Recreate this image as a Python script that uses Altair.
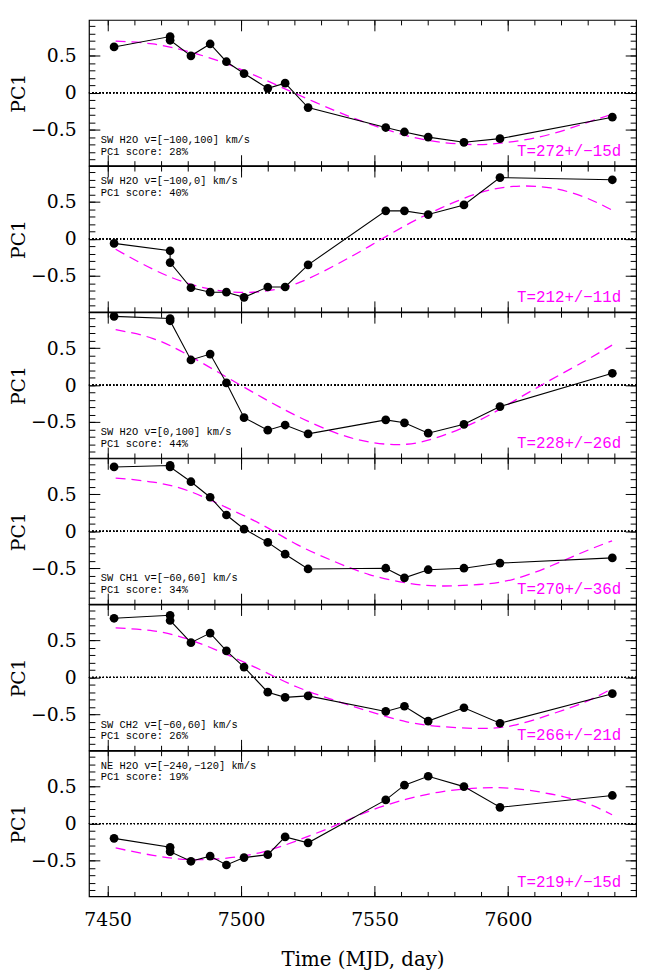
import altair as alt
import pandas as pd

# ---------------- data ----------------
# observation epochs (MJD - 2450000), two visits close to 7473
mjd = [7452.4, 7473.4, 7473.4, 7481.2, 7488.4, 7494.5, 7501.1, 7510.0, 7516.5,
       7525.1, 7554.2, 7561.2, 7570.1, 7583.5, 7597.0, 7639.1]
obs_order = list(range(len(mjd)))

pc1_sw_h2o_all = [0.62, 0.76, 0.71, 0.50, 0.66, 0.42, 0.26, 0.06, 0.13, -0.20,
                  -0.47, -0.53, -0.60, -0.67, -0.62, -0.33]
pc1_sw_h2o_neg = [-0.06, -0.16, -0.32, -0.66, -0.72, -0.72, -0.79, -0.65, -0.65, -0.35,
                  0.38, 0.38, 0.33, 0.46, 0.83, 0.80]
pc1_sw_h2o_pos = [0.93, 0.90, 0.87, 0.34, 0.42, 0.03, -0.44, -0.61, -0.54, -0.66,
                  -0.47, -0.51, -0.65, -0.53, -0.29, 0.16]
pc1_sw_ch1 = [0.87, 0.89, 0.87, 0.67, 0.46, 0.22, 0.03, -0.15, -0.31, -0.51,
              -0.50, -0.63, -0.52, -0.50, -0.43, -0.36]
pc1_sw_ch2 = [0.80, 0.84, 0.77, 0.47, 0.60, 0.36, 0.14, -0.20, -0.27, -0.25,
              -0.46, -0.39, -0.59, -0.41, -0.62, -0.22]
pc1_ne_h2o = [-0.20, -0.32, -0.38, -0.51, -0.44, -0.56, -0.46, -0.42, -0.18, -0.26,
              0.32, 0.52, 0.64, 0.50, 0.22, 0.38]

# dashed periodic fits, read at these epochs
fit_mjd = [7453, 7467, 7480, 7494, 7508, 7521, 7535, 7548, 7562, 7575, 7589, 7602,
           7616, 7629, 7639]
fit_sw_h2o_all = [0.70, 0.66, 0.56, 0.40, 0.19, -0.02, -0.24, -0.42, -0.58, -0.67,
                  -0.70, -0.66, -0.56, -0.41, -0.29]
fit_sw_h2o_neg = [-0.14, -0.41, -0.60, -0.71, -0.71, -0.60, -0.36, -0.10, 0.19, 0.42,
                  0.62, 0.71, 0.69, 0.56, 0.39]
fit_sw_h2o_pos = [0.75, 0.63, 0.41, 0.12, -0.17, -0.42, -0.64, -0.77, -0.80, -0.69,
                  -0.48, -0.22, 0.07, 0.33, 0.54]
fit_sw_ch1 = [0.72, 0.665, 0.55, 0.33, 0.085, -0.18, -0.41, -0.585, -0.70, -0.74,
              -0.72, -0.65, -0.47, -0.27, -0.13]
fit_sw_ch2 = [0.67, 0.63, 0.52, 0.32, 0.09, -0.13, -0.31, -0.46, -0.60, -0.665,
              -0.69, -0.65, -0.50, -0.33, -0.15]
fit_ne_h2o = [-0.33, -0.43, -0.485, -0.47, -0.385, -0.23, -0.03, 0.17, 0.33, 0.43,
              0.48, 0.475, 0.40, 0.28, 0.12]

maser_labels = ["SW H2O v=[\u2212100,100] km/s", "SW H2O v=[\u2212100,0] km/s",
                "SW H2O v=[0,100] km/s", "SW CH1 v=[\u221260,60] km/s",
                "SW CH2 v=[\u221260,60] km/s", "NE H2O v=[\u2212240,\u2212120] km/s"]
score_labels = ["PC1 score: 28%", "PC1 score: 40%", "PC1 score: 44%",
                "PC1 score: 34%", "PC1 score: 26%", "PC1 score: 19%"]
period_labels = ["T=272+/\u221215d", "T=212+/\u221211d", "T=228+/\u221226d",
                 "T=270+/\u221236d", "T=266+/\u221221d", "T=219+/\u221215d"]
label_on_top = [False, True, False, False, False, True]

pc1_series = [pc1_sw_h2o_all, pc1_sw_h2o_neg, pc1_sw_h2o_pos, pc1_sw_ch1, pc1_sw_ch2, pc1_ne_h2o]
fit_series = [fit_sw_h2o_all, fit_sw_h2o_neg, fit_sw_h2o_pos, fit_sw_ch1, fit_sw_ch2, fit_ne_h2o]

x_major = [7450, 7500, 7550, 7600]
x_minor = [7450, 7460, 7470, 7480, 7490, 7500, 7510, 7520, 7530, 7540, 7550, 7560,
           7570, 7580, 7590, 7600, 7610, 7620, 7630, 7640]
y_major = [-0.5, 0, 0.5]
y_minor = [-0.9, -0.8, -0.7, -0.6, -0.5, -0.4, -0.3, -0.2, -0.1, 0, 0.1, 0.2, 0.3,
           0.4, 0.5, 0.6, 0.7, 0.8, 0.9]
x_domain = [7443, 7648]
y_domain = [-0.985, 0.985]

# ---------------- styling ----------------
W, H = 554, 147.5
MAJ, XMIN, YMIN = 11, 5, 6
SERIF = "DejaVu Serif"
MONO = "Liberation Mono"
MAGENTA = "#ff00ff"


def tick_axis(orient, values, size, **kw):
    opts = dict(orient=orient, values=values, tickSize=size, offset=-size,
                tickColor="black", tickWidth=1, domain=False, grid=False,
                labels=False)
    opts.update(kw)
    return alt.Axis(**opts)


def text_layer(s, x, y, align, size, color):
    return alt.Chart(pd.DataFrame({"t": [s]})).mark_text(
        align=align, baseline="middle", font=MONO, fontSize=size, color=color
    ).encode(x=alt.value(x), y=alt.value(y), text="t:N")


def panel(i, last):
    obs = pd.DataFrame({"mjd": mjd, "pc1": pc1_series[i], "k": obs_order})
    fdf = pd.DataFrame({"mjd": fit_mjd, "fit": fit_series[i]})
    xs = alt.Scale(domain=x_domain, nice=False, zero=False)
    ys = alt.Scale(domain=y_domain, nice=False, zero=False)

    zero = alt.Chart(obs).mark_rule(color="black", strokeWidth=1, strokeDash=[1, 2.5]).encode(
        y=alt.YDatum(0, scale=ys, axis=None))

    y_lab = tick_axis("left", y_major, MAJ, labels=True,
                      labelExpr="datum.value == 0 ? '0' : format(datum.value, '.1f')",
                      labelFont=SERIF, labelFontSize=19, labelColor="black",
                      labelPadding=13, titleFont=SERIF, titleFontSize=19,
                      titleFontWeight="normal", titleColor="black", titlePadding=2)
    fit = alt.Chart(fdf).mark_line(color=MAGENTA, strokeWidth=1.3, strokeDash=[10, 6],
                                   interpolate="natural").encode(
        x=alt.X("mjd:Q", scale=xs, axis=tick_axis("top", x_major, MAJ), title=None),
        y=alt.Y("fit:Q", scale=ys, axis=y_lab, title="PC1"))

    if last:
        xb = tick_axis("bottom", x_major, MAJ, labels=True, format="d",
                       labelFont=SERIF, labelFontSize=19, labelColor="black",
                       labelPadding=14, titleFont=SERIF, titleFontSize=20,
                       titleFontWeight="normal", titleColor="black", titlePadding=21)
        xtitle = "Time (MJD, day)"
    else:
        xb = tick_axis("bottom", x_major, MAJ)
        xtitle = None
    conn = alt.Chart(obs).mark_line(color="black", strokeWidth=1.1).encode(
        x=alt.X("mjd:Q", scale=xs, axis=xb, title=xtitle),
        y=alt.Y("pc1:Q", scale=ys, axis=tick_axis("right", y_major, MAJ), title=None),
        order="k:Q")

    pts = alt.Chart(obs).mark_circle(color="black", opacity=1, size=78).encode(
        x=alt.X("mjd:Q", scale=xs, axis=tick_axis("top", x_minor, XMIN), title=None),
        y=alt.Y("pc1:Q", scale=ys, axis=tick_axis("left", y_minor, YMIN), title=None))

    ghost = alt.Chart(obs).mark_circle(opacity=0, size=1).encode(
        x=alt.X("mjd:Q", scale=xs, axis=tick_axis("bottom", x_minor, XMIN), title=None),
        y=alt.Y("pc1:Q", scale=ys, axis=tick_axis("right", y_minor, YMIN), title=None))

    if label_on_top[i]:
        y1, y2 = 15, 27
    else:
        y1, y2 = H - 26, H - 14
    t1 = text_layer(maser_labels[i], 12, y1, "left", 10.5, "black")
    t2 = text_layer(score_labels[i], 12, y2, "left", 10.5, "black")
    t3 = text_layer(period_labels[i], W - 15, H - 15, "right", 16, MAGENTA)

    return alt.layer(zero, fit, conn, pts, ghost, t1, t2, t3).resolve_scale(
        x="independent", y="independent").properties(width=W, height=H)


panels = [panel(i, i == 5) for i in range(6)]
chart = alt.vconcat(*panels, spacing=0, bounds="flush").properties(
    padding={"left": 1, "top": 4, "right": 5, "bottom": 0},
    background="white"
).configure_view(stroke="black", strokeWidth=1.2)

chart.save("out.html", embed_options={"renderer": "svg", "actions": False})
